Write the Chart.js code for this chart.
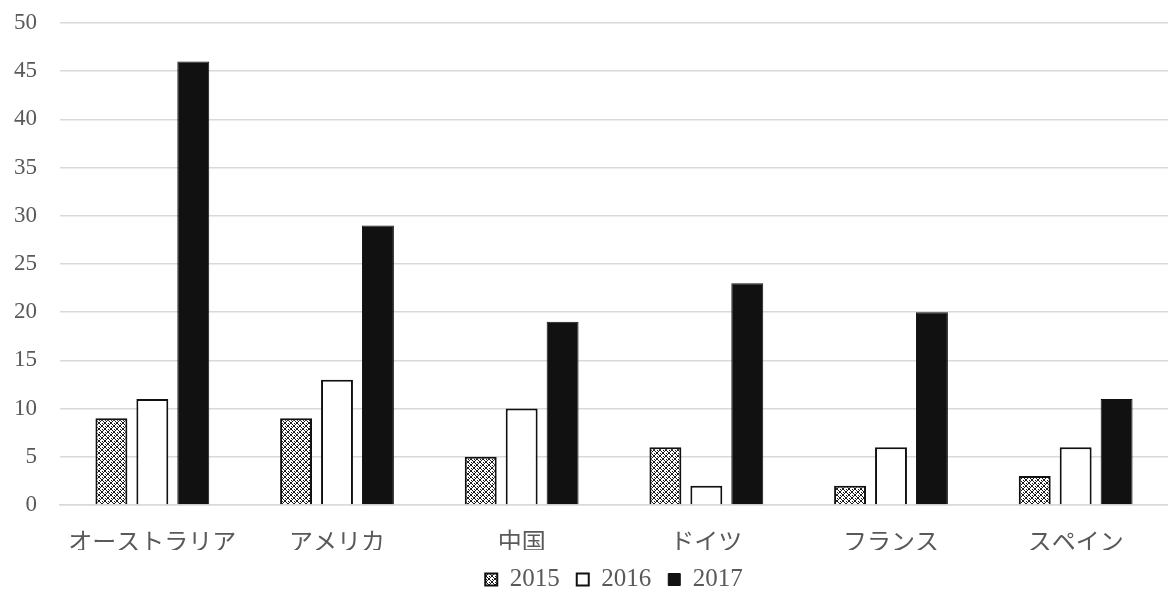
<!DOCTYPE html>
<html>
<head>
<meta charset="utf-8">
<script src="https://cdn.jsdelivr.net/npm/chart.js@4.4.1/dist/chart.umd.min.js"></script>
<style>
  html, body { margin: 0; padding: 0; background: #fff; }
  #wrap { width: 1168px; height: 599px; }
</style>
</head>
<body>
<div id="wrap"><canvas id="myChart" width="1168" height="599"></canvas></div>
<script>
const countries = ['オーストラリア', 'アメリカ', '中国', 'ドイツ', 'フランス', 'スペイン'];
const years = ['2015', '2016', '2017'];
const values_2015 = [9, 9, 5, 6, 2, 3];
const values_2016 = [11, 13, 10, 2, 6, 6];
const values_2017 = [46, 29, 19, 23, 20, 11];
const y_ticks = [0, 5, 10, 15, 20, 25, 30, 35, 40, 45, 50];

const FONT = "'Liberation Serif', 'DejaVu Serif', 'Noto Sans CJK JP', serif";
const TEXT_COLOR = '#595959';
const GRID_COLOR = '#d9d9d9';

// diamond lattice tile for the 2015 bars
function makeHatch() {
    let c = document.createElement('canvas');
    c.width = 6;
    c.height = 6;
    let g = c.getContext('2d');
    g.fillStyle = '#ffffff';
    g.fillRect(0, 0, 6, 6);
    g.fillStyle = '#1a1a1a';
    for (let i = 0; i < 6; i++) {
        g.fillRect(i, i, 1, 1);
        g.fillRect(5 - i, i, 1, 1);
    }
    g.fillRect(0, 3, 1, 1);
    g.fillRect(3, 0, 1, 1);
    return document.getElementById('myChart').getContext('2d').createPattern(c, 'repeat');
}

const hatch = makeHatch();

let ctx = document.getElementById('myChart').getContext('2d');
let my_chart = new Chart(ctx, {
    type: 'bar',
    data: {
        labels: countries,
        datasets: [{
            label: years[0],
            data: values_2015,
            backgroundColor: hatch,
            borderColor: '#111111',
            borderWidth: 2
        },
        {
            label: years[1],
            data: values_2016,
            backgroundColor: '#ffffff',
            borderColor: '#111111',
            borderWidth: 2
        },
        {
            label: years[2],
            data: values_2017,
            backgroundColor: '#111111',
            borderColor: '#111111',
            borderWidth: 1
        }]
    },
    options: {
        responsive: false,
        animation: false,
        layout: {
            padding: { left: 0, right: 0, top: 23, bottom: 0 }
        },
        datasets: {
            bar: {
                categoryPercentage: 0.665,
                barPercentage: 0.78
            }
        },
        plugins: {
            legend: {
                position: 'bottom',
                fullSize: false,
                maxHeight: 49,
                labels: {
                    color: TEXT_COLOR,
                    font: { family: FONT, size: 25 },
                    boxWidth: 12,
                    boxHeight: 12,
                    padding: 17
                }
            },
            tooltip: { enabled: false }
        },
        scales: {
            x: {
                grid: { display: false },
                border: { color: GRID_COLOR, width: 1.5 },
                ticks: {
                    color: TEXT_COLOR,
                    font: { family: FONT, size: 24 },
                    padding: 16
                },
                afterFit: (scale) => {
                    scale.height = 45;
                }
            },
            y: {
                min: 0,
                max: 50,
                afterBuildTicks: (axis) => {
                    axis.ticks = y_ticks.map(v => ({ value: v }));
                },
                afterFit: (scale) => {
                    scale.width = 60;
                    scale.paddingTop = 0;
                    scale.paddingBottom = 0;
                },
                grid: { color: GRID_COLOR, lineWidth: 1.5, drawTicks: false },
                border: { display: false },
                ticks: {
                    color: TEXT_COLOR,
                    font: { family: FONT, size: 23 },
                    padding: 23
                }
            }
        }
    }
});
</script>
</body>
</html>
